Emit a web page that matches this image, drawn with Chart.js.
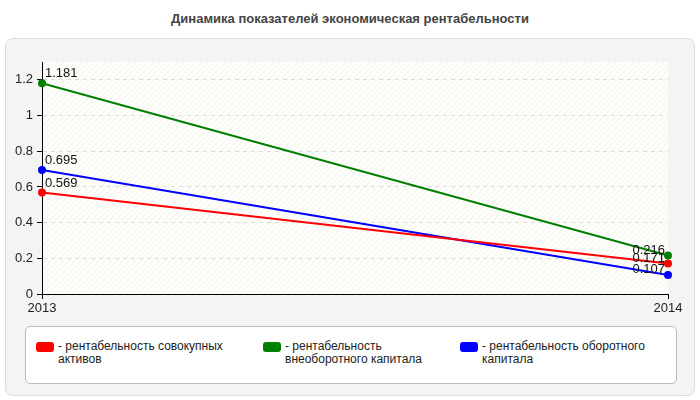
<!DOCTYPE html>
<html>
<head>
<meta charset="utf-8">
<script src="https://cdn.jsdelivr.net/npm/chart.js@4/dist/chart.umd.min.js"></script>
<style>
  body { margin: 0; width: 700px; height: 400px; background: #fff; font-family: Arial, "Liberation Sans", sans-serif; position: relative; overflow: hidden; }
  #title { position: absolute; top: 11px; left: 0; width: 700px; text-align: center; font-weight: bold; font-size: 13px; color: #444; }
  #panel { position: absolute; left: 5px; top: 38px; width: 688px; height: 356px; background: #f4f4f4; border: 1px solid #ddd; border-radius: 8px; }
  #wrap { position: absolute; left: 0; top: 0; width: 700px; height: 320px; }
  #legend { position: absolute; left: 25px; top: 326px; width: 650px; height: 56px; background: #fff; border: 1px solid #bbb; border-radius: 5px; }
  .item { position: absolute; top: 13px; font-size: 12px; color: #222; line-height: 13px; }
  .sw { position: absolute; left: 0; top: 2px; width: 18px; height: 10px; border-radius: 3px; }
  .txt { margin-left: 22px; }
</style>
</head>
<body>
<div id="title">Динамика показателей экономическая рентабельности</div>
<div id="panel"></div>
<div id="wrap"><canvas id="c"></canvas></div>
<div id="legend"></div>
<script>
const years = ["2013", "2014"];
const seriesNames = ["рентабельность совокупных активов", "рентабельность внеоборотного капитала", "рентабельность оборотного капитала"];
const seriesColors = ["#ff0000", "#008000", "#0000ff"];
const assets = [0.569, 0.171];
const fixedCapital = [1.181, 0.216];
const workingCapital = [0.695, 0.107];
const yTicks = [0, 0.2, 0.4, 0.6, 0.8, 1, 1.2];
const legendLeft = [10, 237, 434];
const legendWidth = [210, 190, 210];

const legend = document.getElementById("legend");
seriesNames.forEach((n, i) => {
  legend.insertAdjacentHTML("beforeend",
    `<div class="item" style="left:${legendLeft[i]}px;width:${legendWidth[i]}px">
       <div class="sw" style="background:${seriesColors[i]}"></div>
       <div class="txt">- ${n}</div>
     </div>`);
});

const plotBg = {
  id: "plotBg",
  beforeDraw(chart) {
    const { ctx, chartArea: a } = chart;
    ctx.save();
    ctx.fillStyle = "#fefefb";
    ctx.fillRect(a.left, a.top, a.right - a.left, a.bottom - a.top);
    ctx.beginPath();
    ctx.rect(a.left, a.top, a.right - a.left, a.bottom - a.top);
    ctx.clip();
    ctx.strokeStyle = "#f2f2ee";
    ctx.lineWidth = 1;
    for (let x = a.left - 300; x < a.right; x += 6) {
      ctx.beginPath();
      ctx.moveTo(x, a.bottom);
      ctx.lineTo(x + (a.bottom - a.top), a.top);
      ctx.stroke();
    }
    ctx.restore();
  }
};

const valueLabels = {
  id: "valueLabels",
  afterDatasetsDraw(chart) {
    const { ctx } = chart;
    ctx.save();
    ctx.font = "13px Arial, 'Liberation Sans', sans-serif";
    ctx.fillStyle = "#111";
    ctx.textBaseline = "bottom";
    chart.data.datasets.forEach((ds, i) => {
      chart.getDatasetMeta(i).data.forEach((pt, j) => {
        const t = ds.data[j].toFixed(3);
        if (j === 0) { ctx.textAlign = "left"; ctx.fillText(t, pt.x + 3, pt.y - 3); }
        else { ctx.textAlign = "right"; ctx.fillText(t, pt.x - 3, pt.y + 1); }
      });
    });
    ctx.restore();
  }
};

const mk = (label, data, color) => ({
  label, data, borderColor: color, backgroundColor: color,
  borderWidth: 2, pointRadius: 3, pointHoverRadius: 3, tension: 0
});

new Chart(document.getElementById("c"), {
  type: "line",
  data: {
    labels: years,
    datasets: [
      mk(seriesNames[0], assets, seriesColors[0]),
      mk(seriesNames[1], fixedCapital, seriesColors[1]),
      mk(seriesNames[2], workingCapital, seriesColors[2])
    ]
  },
  options: {
    responsive: true,
    maintainAspectRatio: false,
    animation: false,
    layout: { padding: { top: 62, right: 32, left: 0, bottom: 0 } },
    plugins: { legend: { display: false }, tooltip: { enabled: false } },
    scales: {
      x: {
        offset: false,
        grid: { drawOnChartArea: false, drawTicks: true, tickLength: 5, tickColor: "#000" },
        border: { color: "#000", width: 1 },
        ticks: { color: "#222", font: { size: 13 }, padding: 2, maxRotation: 0 },
        afterFit(s) { s.height = 26; }
      },
      y: {
        min: 0, max: 1.3,
        afterBuildTicks(s) { s.ticks = yTicks.map(v => ({ value: v })); },
        grid: { color: "#ddd", tickColor: "#000", tickLength: 5, drawOnChartArea: true },
        border: { color: "#000", width: 1, dash: [4, 4] },
        ticks: { color: "#222", font: { size: 13 }, padding: 4, callback: v => String(Math.round(v * 10) / 10) },
        afterFit(s) { s.width = 42; }
      }
    }
  },
  plugins: [plotBg, valueLabels]
});
</script>
</body>
</html>
